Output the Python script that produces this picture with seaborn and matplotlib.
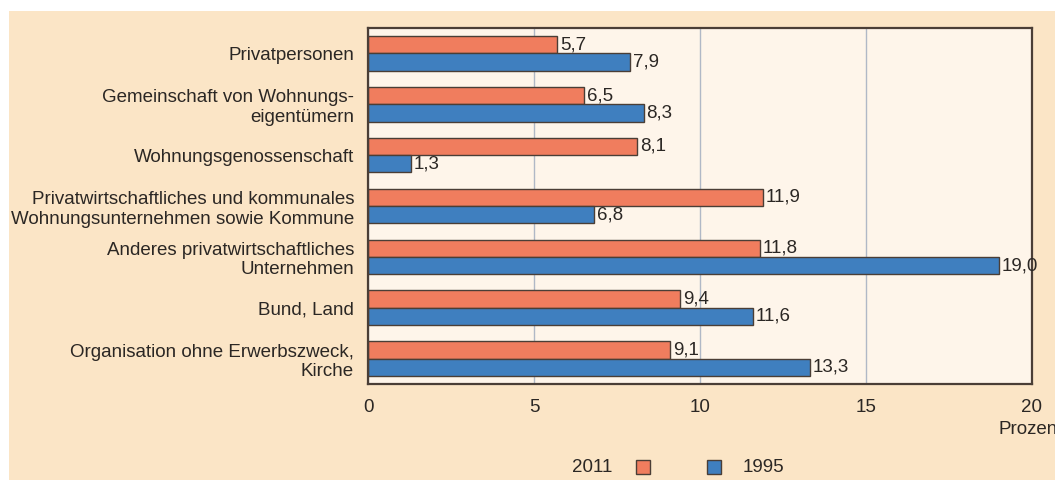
import pandas as pd
import matplotlib.pyplot as plt
import seaborn as sns
from matplotlib.patches import Rectangle

# Data
categories = [
    "Privatpersonen",
    "Gemeinschaft von Wohnungs-\neigentümern",
    "Wohnungsgenossenschaft",
    "Privatwirtschaftliches und kommunales\nWohnungsunternehmen sowie Kommune",
    "Anderes privatwirtschaftliches\nUnternehmen",
    "Bund, Land",
    "Organisation ohne Erwerbszweck,\nKirche",
]
values_2011 = [5.7, 6.5, 8.1, 11.9, 11.8, 9.4, 9.1]
values_1995 = [7.9, 8.3, 1.3, 6.8, 19.0, 11.6, 13.3]
years = ["2011", "1995"]
x_ticks = [0, 5, 10, 15, 20]

df = pd.DataFrame({
    "kategorie": categories * 2,
    "jahr": ["2011"] * len(categories) + ["1995"] * len(categories),
    "prozent": values_2011 + values_1995,
})

outer_bg = "#FBE5C6"
inner_bg = "#FEF5EA"
dark = "#4A3E36"
text_col = "#2B2724"
colors = {"2011": "#F07D5E", "1995": "#3F7FBF"}
fs = 13.5

sns.set_style("white")
plt.rcParams["font.family"] = ["Liberation Sans", "DejaVu Sans"]
plt.rcParams["font.size"] = fs

fig = plt.figure(figsize=(10.55, 4.8), dpi=100)
fig.patch.set_facecolor("white")
fig.patches.append(Rectangle((9 / 1055, 0), 1 - 9 / 1055, 1 - 11 / 480,
                             transform=fig.transFigure, facecolor=outer_bg,
                             edgecolor="none", zorder=-10))

ax = fig.add_axes([368 / 1055, 96 / 480, 664 / 1055, 356 / 480])
ax.set_facecolor(inner_bg)

sns.barplot(data=df, y="kategorie", x="prozent", hue="jahr", hue_order=years,
            palette=colors, saturation=1, orient="h", width=0.68, gap=0,
            edgecolor=dark, linewidth=1, legend=False, ax=ax)

for cont in ax.containers:
    ax.bar_label(cont, labels=[f"{b.get_width():.1f}".replace(".", ",") for b in cont],
                 padding=2, fontsize=fs, color=text_col)

ax.set_xlim(0, 20)
ax.set_xticks(x_ticks)
ax.set_xticklabels([str(t) for t in x_ticks], fontsize=fs, color=text_col)
ax.tick_params(axis="x", length=6, width=1, color=dark, direction="out", pad=5)
ax.tick_params(axis="y", length=0, pad=10, labelsize=fs, labelcolor=text_col)
ax.set_xlabel("")
ax.set_ylabel("")
ax.xaxis.grid(True, color="#B0B8C6", linewidth=1)
ax.set_axisbelow(True)
for s in ax.spines.values():
    s.set_visible(True)
    s.set_color(dark)
    s.set_linewidth(1.6)

# unit label, cut by the right edge as in the original
fig.text(998 / 1055, 50 / 480, "Prozent", fontsize=fs, color=text_col,
         ha="left", va="center")

# legend drawn by hand: "2011 [box]     [box] 1995"
fig.text(612 / 1055, 13 / 480, "2011", fontsize=fs, color=text_col,
         ha="right", va="center")
fig.text(743 / 1055, 13 / 480, "1995", fontsize=fs, color=text_col,
         ha="left", va="center")
for x0, yr in [(636, "2011"), (707, "1995")]:
    fig.patches.append(Rectangle((x0 / 1055, 6 / 480), 14 / 1055, 14 / 480,
                                 transform=fig.transFigure, facecolor=colors[yr],
                                 edgecolor=dark, linewidth=1))

fig.savefig("out.png", dpi=100, facecolor=fig.get_facecolor())
